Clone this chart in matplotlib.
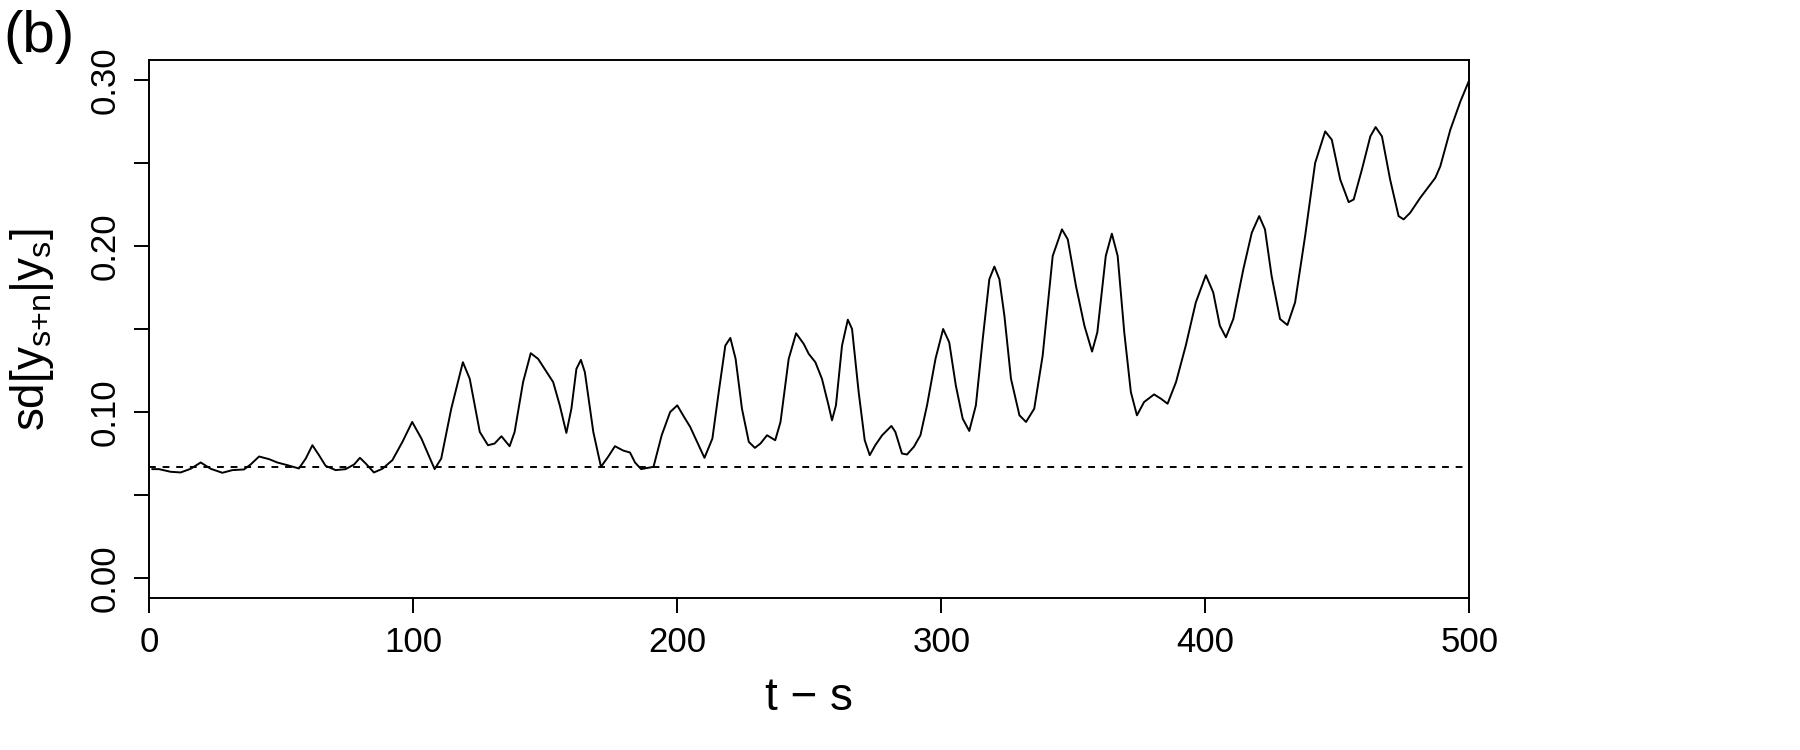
import numpy as np
import matplotlib
matplotlib.use("Agg")
from matplotlib import pyplot as plt

plt.rcParams['font.family'] = ['Liberation Sans', 'DejaVu Sans']
plt.rcParams['mathtext.fontset'] = 'custom'
plt.rcParams['mathtext.rm'] = 'Liberation Sans'
plt.rcParams['mathtext.it'] = 'Liberation Sans'

# values
lag = [1.2, 3.7, 8.1, 11.9, 15.7, 19.5, 23.3, 27.7, 31.5, 35.9, 38.4, 41.6, 45.4, 48.5,
       52.3, 56.7, 59.3, 61.8, 64.3, 66.8, 70.6, 74.4, 77.6, 79.8, 82.0, 85.1, 88.3, 92.1,
       95.9, 99.6, 103.1, 108.1, 110.6, 114.4, 118.8, 121.4, 125.2, 128.3, 130.8, 133.4,
       136.5, 138.4, 141.6, 144.5, 147.3, 149.5, 153.0, 155.5, 158.0, 159.9, 161.8, 163.5,
       165.0, 168.2, 171.1, 173.8, 176.4, 179.5, 182.1, 184.0, 186.3, 191.0, 194.1, 197.3,
       200.0, 202.4, 204.9, 207.5, 210.3, 213.3, 215.7, 218.2, 220.1, 222.1, 224.5, 227.1,
       229.4, 231.5, 234.0, 237.1, 239.1, 242.2, 245.0, 247.9, 249.8, 252.3, 254.8, 257.3,
       258.6, 260.1, 262.4, 264.6, 266.2, 268.7, 271.0, 272.9, 275.0, 277.6, 281.1, 282.6,
       285.1, 287.0, 289.6, 292.1, 294.6, 297.8, 300.7, 303.0, 305.5, 308.1, 310.6, 313.1,
       315.7, 318.2, 320.1, 322.0, 323.9, 326.4, 329.6, 332.1, 335.2, 338.4, 342.2, 345.7,
       347.9, 351.0, 354.2, 357.1, 359.1, 362.3, 364.6, 366.8, 369.3, 371.8, 374.1, 376.8,
       380.6, 383.2, 385.7, 388.9, 392.6, 396.4, 400.2, 403.0, 405.5, 407.8, 410.6, 414.4,
       417.6, 420.4, 422.6, 425.1, 428.3, 431.1, 434.0, 437.8, 441.6, 445.4, 447.9, 451.1,
       454.3, 456.2, 459.3, 462.5, 464.5, 466.9, 470.0, 473.2, 475.1, 477.6, 481.4, 485.2,
       487.1, 489.0, 492.8, 496.6, 500.0]
sd = [0.0656, 0.0656, 0.064, 0.0636, 0.0658, 0.0696, 0.0658, 0.0634, 0.065, 0.0654, 0.0684,
      0.0732, 0.0716, 0.0696, 0.068, 0.066, 0.072, 0.080, 0.074, 0.0676, 0.065, 0.0656, 0.0684,
      0.0724, 0.069, 0.0636, 0.0658, 0.071, 0.082, 0.094, 0.084, 0.0656, 0.072, 0.102, 0.130,
      0.120, 0.088, 0.080, 0.081, 0.0854, 0.0794, 0.088, 0.118, 0.1354, 0.132, 0.1266, 0.118,
      0.104, 0.0874, 0.102, 0.126, 0.1314, 0.124, 0.088, 0.067, 0.073, 0.0794, 0.0768, 0.0756,
      0.0696, 0.0656, 0.067, 0.086, 0.100, 0.104, 0.0975, 0.091, 0.082, 0.0724, 0.084, 0.112,
      0.140, 0.1446, 0.132, 0.102, 0.082, 0.0784, 0.081, 0.086, 0.083, 0.094, 0.132, 0.1474,
      0.141, 0.135, 0.130, 0.120, 0.104, 0.095, 0.104, 0.140, 0.1556, 0.150, 0.112, 0.083,
      0.074, 0.080, 0.086, 0.0916, 0.088, 0.075, 0.0744, 0.079, 0.086, 0.104, 0.132, 0.150,
      0.142, 0.116, 0.096, 0.0886, 0.104, 0.144, 0.180, 0.1876, 0.180, 0.158, 0.120, 0.098,
      0.094, 0.102, 0.134, 0.194, 0.210, 0.204, 0.176, 0.152, 0.1364, 0.148, 0.194, 0.2074,
      0.194, 0.148, 0.112, 0.098, 0.106, 0.1106, 0.108, 0.105, 0.118, 0.140, 0.166, 0.1824,
      0.172, 0.152, 0.145, 0.156, 0.186, 0.208, 0.218, 0.210, 0.182, 0.156, 0.1524, 0.166,
      0.206, 0.250, 0.269, 0.264, 0.240, 0.2264, 0.228, 0.246, 0.266, 0.2716, 0.266, 0.240,
      0.218, 0.216, 0.220, 0.229, 0.237, 0.241, 0.248, 0.270, 0.287, 0.300]
baseline = 0.067

xticks = [0, 100, 200, 300, 400, 500]
yticks = [0.0, 0.05, 0.10, 0.15, 0.20, 0.25, 0.30]
ylabels = ['0.00', '', '0.10', '', '0.20', '', '0.30']

fig = plt.figure(figsize=(18, 7.5), dpi=100)
ax = fig.add_axes([0.0829, 0.2027, 0.7334, 0.7173])

ax.plot(lag, sd, color='black', lw=1.4, solid_joinstyle='round')
ax.axhline(baseline, color='black', lw=1.4, linestyle=(0, (3.5, 3.5)))

ax.set_xlim(0, 500)
ax.set_ylim(-0.012, 0.312)

ax.set_xticks(xticks)
ax.set_xticklabels([str(v) for v in xticks])
ax.set_yticks(yticks)
ax.set_yticklabels(ylabels, rotation=90, va='center')
ax.tick_params(axis='both', labelsize=25, length=11, width=1.4, pad=9)
for s in ax.spines.values():
    s.set_linewidth(1.4)

fig.text(0.4496, 0.069, 't \u2212 s', fontsize=33, ha='center', va='center')
fig.text(0.018, 0.56, r'sd[y$_{\mathrm{s{+}n}}$|y$_{\mathrm{s}}$]', fontsize=33,
         rotation=90, ha='center', va='center')
fig.text(0.002, 0.95, '(b)', fontsize=42, ha='left', va='center')

fig.savefig('out.png', dpi=100)
